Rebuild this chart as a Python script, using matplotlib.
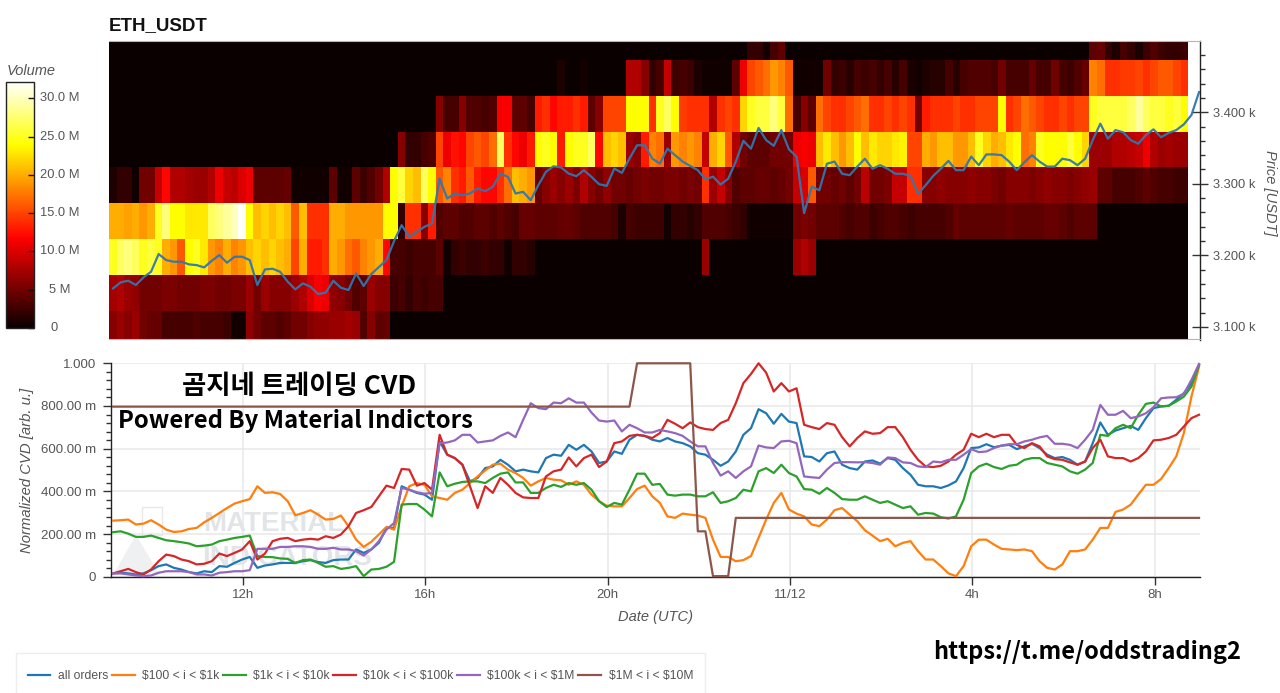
import numpy as np
import matplotlib
matplotlib.use("Agg")
import matplotlib.pyplot as plt
from matplotlib.patches import Polygon, Rectangle
from matplotlib.ticker import MultipleLocator

plt.rcParams['font.family'] = ['Liberation Sans', 'DejaVu Sans']

FIG_W, FIG_H = 1280, 693

# hours since midnight of 11/11, 11/12 00:00 is 24
HEAT_START = 9.066
LINE_START = 9.155
LINE_END = 32.97

# volume per 10 min bin in millions, one list per price bin
vol_3500 = [0] * 84 + [2, 2, 0.3, 3, 4] + [0] * 40 + [4, 4.5, 2, 1, 3, 2, 0.8, 2.5, 3.5, 2.5, 2, 2, 2.5]
vol_3450 = [0] * 59 + [1, 0, 0, 0.6] + [0] * 5 + [8, 8, 6, 2, 3, 9, 2.5, 3, 2.5, 1, 0.3, 0.3, 0.3, 0.3, 4, 11, 15, 16, 17, 19, 18, 16,
            0.3, 0.3, 0.5, 0.5, 5, 2, 2.5, 1.5, 3, 2.5, 3, 2, 3, 1.5, 3, 0.8, 0.5, 1, 1.5, 1.5, 3, 1.5, 3, 3.5, 3.5, 3.5, 3, 5,
            3, 3, 3, 4.5, 3, 3, 5, 3, 2.5, 3.5, 4.5,
            18, 17, 14, 14, 14.5, 14.5, 15, 14, 15, 16, 16, 15, 14]
vol_3400 = [0] * 43 + [6, 3, 3, 6, 3.5, 3.5, 3, 3.5, 11.5, 11.5, 4, 4, 3, 13, 14, 12, 13, 13, 14, 13, 4, 6, 15, 15, 15, 24, 24, 24, 14, 25,
            27, 24, 14.5, 14, 14, 14, 8, 14, 15, 14, 22, 25, 26, 26, 28, 26, 17, 3, 6, 4, 17, 15, 14, 14, 15, 16, 17, 14, 14, 15, 14, 15, 14, 5,
            13, 14, 14, 14, 15, 14, 14, 15, 15, 15, 24, 14, 15, 17, 16, 15, 14, 14, 15, 14, 15, 15,
            25, 26, 26, 26, 26, 27, 29, 27, 26, 26, 25, 26, 24]
vol_3350 = [0] * 38 + [6, 2, 2, 3, 3.5, 15, 11, 12.5, 12, 15, 16, 15, 17, 27, 14, 12, 11, 13, 24, 25, 24, 13, 24, 25, 25, 27, 12, 21, 22, 21, 7, 6, 13,
            18, 17, 7, 19, 18, 19, 18, 9, 20, 22, 16, 8, 5, 4, 4, 4, 5, 5, 5, 11, 11.5, 11, 21, 23, 21, 19, 21, 24, 21, 23, 22, 22, 23, 23.5, 15, 15,
            20, 19, 21, 21, 19, 19, 21, 25, 22, 20, 21, 23, 24, 17, 18, 25, 24, 24, 24, 26, 24, 22,
            7, 7, 7, 8, 8, 8.5, 9, 11, 8, 7, 7.5, 7, 7]
vol_3300 = [1, 2, 2, 0.3, 5, 5, 9, 12, 8, 8, 7.5, 7, 7, 8, 11, 9, 8.5, 10, 11, 4, 4, 4, 4, 4.5, 0.3, 0.3, 0.3, 0.3, 0.3, 4, 0.3, 0.5, 4, 2.5, 3.5, 5, 8,
            24, 26, 22, 21, 27, 24, 16, 18, 14, 13, 16, 13, 12, 12, 14, 17, 21, 20, 19, 4.5, 6, 7, 6, 7, 5.5, 8, 6, 5, 6.5, 5, 5, 4.5, 5,
            5.5, 5, 5, 5.5, 5.5, 5, 5.5, 5, 14, 7, 9, 6, 3.5, 4, 4, 4.5, 4.5, 4, 4.5, 5, 9, 10, 16,
            5, 5, 4.5, 5, 4, 5, 8.5, 5, 5, 5.5, 9, 9, 14, 14,
            6, 6, 6.5, 6, 6, 6, 6.5, 6, 6, 5.5, 5, 6, 6, 6, 5.5, 6, 6.5, 6, 6, 5.5, 6, 6.5, 7,
            4, 4, 3, 3, 3, 3.5, 4, 3.5, 3, 3, 2.5, 2.5]
vol_3250 = [20, 20, 19.5, 20, 19, 20, 25, 28, 24, 24, 23, 23, 23, 27, 28, 29, 30, 32, 24, 21, 22, 21, 22, 21, 16, 21, 14, 14, 14,
            20, 20, 19, 19, 19, 19, 19, 24, 24, 2, 14, 14, 6, 13,
            3.5, 4, 4, 3.5, 3.5, 4, 4, 3.5, 4, 3.5, 3, 4.5, 4.5, 4, 4, 4, 4.5, 4.5, 4, 3.5, 3.5, 3.5, 3.5, 3, 1, 3,
            2.5, 2.5, 2.5, 2.5, 0.5, 2, 2, 1.5, 2, 3.5, 3.5, 3.5, 3, 2.5, 2, 0.3, 0.3, 0.3, 0.3, 0.3, 0.3, 5, 5.5, 5,
            4, 4, 4, 3.5, 3, 3.5, 3.5, 2.5, 3, 3.5, 3.5, 3, 2.5, 3, 3, 3, 3, 3.5, 4.5, 4,
            4, 4, 4, 4, 4, 4.5, 4, 4, 4, 4, 4.5, 4.5, 4, 3.5, 4, 4, 4] + [0] * 12
vol_3200 = [25, 27, 28, 27, 25, 26, 25, 20, 19, 16, 24, 25, 23, 19, 18, 20, 18, 19, 21, 22, 21, 22, 21, 20, 15, 20, 13, 13, 14,
            20, 19, 17, 16, 18, 19, 20, 12, 3, 3, 2.5, 3, 3, 3, 4, 0.5, 2, 2.5, 2, 2, 2.5, 2, 2, 0.5, 2, 2, 1.5] + \
           [0] * 22 + [7] + [0] * 11 + [7, 8, 7] + [0] * 49
vol_3150 = [7.5, 8, 7, 6.5, 5, 5, 5, 5.5, 5.5, 5, 5, 5, 5.5, 5.5, 5, 5, 5.5, 5.5, 7, 5, 7, 6, 6, 6, 7, 8, 10, 11.5, 11,
            6.5, 6, 5, 3.5, 4, 7, 6, 6, 2.5, 3, 2, 3, 2.5, 3, 3] + [0] * 98
vol_3100 = [6, 7, 6, 7, 5, 4.5, 4.5, 3, 3, 3, 3, 3.5, 3, 3, 3, 2.5, 0.5, 0.5, 6.5, 5, 4, 4, 3.5, 4, 5, 5, 6, 6.5, 6.5, 7, 7, 7.5, 7, 3.5, 6, 4, 4.5] + [0] * 105

price_values = [3153.9, 3162.3, 3164.6, 3158.6, 3169.2, 3177.1, 3201.8, 3193.4, 3191.1, 3191.1, 3187.4, 3186.4, 3183.2, 3192.5, 3200.4,
                3189.7, 3198.1, 3198.1, 3193.4, 3158.6, 3180.4, 3181.3, 3177.1, 3163.2, 3152.5, 3160.9, 3156.2, 3146, 3147.9, 3164.6,
                3154.8, 3151.6, 3174.8, 3157.2, 3173.9, 3183.7, 3193.4, 3219.9, 3242.2, 3226, 3232.9, 3239.9, 3244.6, 3307.3, 3279.4,
                3286.4, 3284.1, 3286.4, 3293.4, 3289.7, 3295.7, 3314.3, 3309.6, 3286.4, 3288.7, 3277.1, 3298, 3316.6, 3324.5, 3322.7,
                3314.3, 3310.6, 3319, 3309.6, 3299.4, 3297.1, 3321.3, 3315.2, 3335.2, 3353.8, 3353.8, 3335.2, 3328.2,
                3349, 3340, 3331, 3325, 3319, 3306, 3310, 3299, 3307, 3331, 3360, 3349, 3378, 3361, 3353, 3375, 3348, 3338, 3259, 3296,
                3291, 3328, 3331, 3314, 3312, 3324, 3335, 3321, 3326, 3321, 3314, 3314, 3311, 3286, 3298, 3311, 3321, 3332, 3319, 3319,
                3338, 3326, 3341, 3341, 3340, 3331, 3319, 3330, 3340, 3331, 3324, 3324, 3335, 3333, 3326, 3335, 3361, 3384, 3363, 3375,
                3372, 3361, 3356, 3368, 3376, 3365, 3371, 3375, 3383, 3396, 3428]

# normalized CVD, in thousandths
cvd_all = [16, 19, 16, 11, 16, 31, 50, 58, 42, 34, 22, 16, 26, 22, 50, 47, 65, 81, 93, 42, 53, 58, 65, 65, 65, 73, 78, 69, 65, 78, 81, 81,
           128, 112, 128, 159, 229, 229, 424, 408, 393, 385, 361, 634, 572, 556, 525, 447, 463, 509, 517, 548, 525, 494, 502, 494, 489,
           556, 572, 567, 618, 595, 618, 587, 533, 540, 587, 576, 642, 665, 660, 642, 634,
           650, 634, 626, 611, 579, 572, 548, 520, 540, 587, 665, 696, 785, 766, 717, 763, 727, 720, 564, 561, 540, 579, 587, 525, 509,
           502, 540, 545, 530, 556, 548, 509, 478, 431, 424, 424, 416, 428, 447, 509, 603, 606, 621, 607, 614, 618, 598, 611, 623, 603,
           572, 556, 561, 548, 525, 540, 626, 723, 665, 685, 696, 707, 688, 743, 790, 798, 801, 829, 860, 907, 992]
cvd_100_1k = [263, 265, 268, 245, 249, 265, 245, 221, 210, 213, 224, 229, 255, 276, 299, 322, 343, 354, 364, 424, 393, 396, 388, 354, 288,
              299, 312, 291, 268, 271, 287, 237, 174, 140, 164, 198, 234, 221, 330, 424, 439, 431, 377, 369, 361, 393, 408, 439, 470, 498,
              525, 530, 502, 486, 463, 427, 447, 463, 455, 452, 431, 447, 431, 385, 354, 333, 330, 330, 369, 411, 427, 377, 346,
              283, 276, 296, 291, 287, 276, 174, 93, 93, 73, 78, 97, 182, 268, 346, 393, 315, 296, 283, 245, 237, 268, 312, 322, 291, 260,
              218, 193, 167, 178, 143, 159, 167, 120, 81, 81, 50, 16, 3, 50, 143, 174, 174, 151, 131, 128, 125, 128, 120, 73, 42, 34, 58,
              120, 120, 128, 174, 229, 229, 304, 315, 338, 385, 431, 431, 458, 509, 564, 673, 844, 984]
cvd_1k_10k = [209, 213, 202, 187, 187, 193, 182, 171, 167, 162, 156, 143, 146, 151, 167, 174, 182, 187, 193, 97, 93, 92, 86, 84, 65, 78, 81,
              65, 47, 50, 37, 42, 50, 3, 34, 37, 47, 70, 338, 341, 341, 315, 283, 489, 424, 436, 444, 447, 447, 439, 463, 483, 489, 442, 442,
              393, 393, 416, 431, 421, 439, 431, 439, 408, 354, 327, 346, 338, 408, 483, 483, 431, 435,
              385, 380, 385, 385, 377, 377, 396, 346, 354, 369, 408, 400, 494, 509, 486, 525, 486, 470, 411, 408, 389, 416, 393, 364, 361,
              361, 377, 361, 346, 354, 338, 322, 330, 291, 299, 296, 279, 273, 283, 361, 486, 517, 530, 514, 505, 520, 525, 548, 556, 556,
              533, 525, 517, 494, 483, 502, 533, 665, 660, 696, 712, 696, 759, 810, 816, 798, 801, 821, 844, 891, 992]
cvd_10k_100k = [16, 26, 37, 22, 11, 34, 73, 104, 97, 81, 73, 58, 61, 73, 109, 97, 112, 128, 167, 81, 109, 167, 178, 182, 167, 174, 178, 174,
                190, 182, 198, 237, 299, 312, 327, 377, 427, 416, 505, 502, 427, 439, 408, 665, 572, 556, 525, 424, 322, 424, 393, 463, 431,
                393, 372, 369, 369, 470, 494, 502, 559, 517, 556, 572, 514, 540, 626, 634, 660, 665, 660, 650, 673,
                735, 717, 696, 723, 701, 692, 688, 720, 735, 813, 907, 950, 1000, 956, 868, 907, 868, 883, 712, 701, 692, 720, 712, 654, 611,
                650, 681, 670, 673, 701, 701, 654, 595, 548, 517, 514, 520, 540, 572, 595, 670, 654, 670, 654, 665, 665, 618, 603, 626, 611,
                564, 551, 548, 536, 525, 540, 603, 642, 564, 556, 556, 540, 556, 587, 639, 642, 650, 665, 704, 743, 759]
cvd_100k_1m = [16, 16, 11, 6, 3, 6, 19, 26, 26, 26, 22, 11, 11, 6, 19, 22, 26, 26, 31, 131, 131, 131, 140, 140, 143, 143, 140, 131, 131, 136,
               128, 128, 120, 100, 128, 167, 221, 252, 416, 408, 396, 389, 393, 626, 629, 639, 665, 665, 629, 634, 639, 660, 676, 654, 735,
               813, 790, 785, 816, 813, 836, 816, 816, 769, 732, 727, 732, 681, 712, 696, 676, 676, 688,
               681, 673, 660, 634, 611, 611, 533, 474, 494, 463, 494, 517, 615, 606, 603, 634, 637, 626, 470, 466, 463, 502, 533, 537, 537,
               536, 537, 533, 525, 559, 556, 536, 533, 517, 514, 540, 536, 548, 548, 572, 598, 584, 587, 603, 615, 621, 621, 634, 642, 653,
               660, 623, 623, 618, 603, 642, 688, 805, 759, 759, 777, 743, 751, 766, 794, 836, 840, 841, 857, 922, 997]
cvd_1m_10m = [797] * 69 + [1000] * 8 + [213] * 2 + [3] * 3 + [276] * 62

legend_labels = ['all orders', r'\$100 < i < \$1k', r'\$1k < i < \$10k', r'\$10k < i < \$100k', r'\$100k < i < \$1M', r'\$1M < i < \$10M']
line_colors = ['#1f77b4', '#ff7f0e', '#2ca02c', '#d62728', '#9467bd', '#8c564b']

price_ticks = [3100, 3200, 3300, 3400]
price_labels = ['3.100 k', '3.200 k', '3.300 k', '3.400 k']
cvd_ticks = [0, 200, 400, 600, 800, 1000]
cvd_labels = ['0', '200.00 m', '400.00 m', '600.00 m', '800.00 m', '1.000']
hour_ticks = [12, 16, 20, 24, 28, 32]
hour_labels = ['12h', '16h', '20h', '11/12', '4h', '8h']
volume_ticks = [0, 5, 10, 15, 20, 25, 30]
volume_labels = ['0', '5 M', '10.0 M', '15.0 M', '20.0 M', '25.0 M', '30.0 M']
BIN_EDGE = 3122.8  # lowest price bin boundary
BIN_SIZE = 50
VOL_MAX = 32.2

TICK_COLOR = '#555555'
WATERMARK = '#e2e5e8'


def px_axes(fig, left, top, right, bottom):
    # axes placed by its pixel box, y counted from the top
    return fig.add_axes([left / FIG_W, 1 - bottom / FIG_H, (right - left) / FIG_W, (bottom - top) / FIG_H])


def px_hour(px):
    return 12 + (px - 242.8) / 45.6


def fig_xy(x, y):
    return x / FIG_W, 1 - y / FIG_H


fig = plt.figure(figsize=(FIG_W / 100, FIG_H / 100), dpi=100)

# --- heatmap panel
ax = px_axes(fig, 109, 41.3, 1199.5, 339.5)
vol = np.array([vol_3100, vol_3150, vol_3200, vol_3250, vol_3300, vol_3350, vol_3400, vol_3450, vol_3500])
x_edges = HEAT_START + np.arange(vol.shape[1] + 1) / 6
y_edges = (BIN_EDGE - BIN_SIZE) + np.arange(vol.shape[0] + 1) * BIN_SIZE
mesh = ax.pcolormesh(x_edges, y_edges, vol, cmap='hot', vmin=0, vmax=VOL_MAX, shading='flat', linewidth=0, antialiased=False)
ax.plot(np.linspace(LINE_START, LINE_END, len(price_values)), price_values, color='#2f77b0', lw=1.6, alpha=0.95, clip_on=False)
ax.set_xlim(px_hour(109), px_hour(1199.5))
ax.set_ylim(3082.5, 3499)
ax.xaxis.set_visible(False)
ax.yaxis.tick_right()
ax.yaxis.set_label_position('right')
ax.set_yticks(price_ticks, price_labels)
ax.yaxis.set_minor_locator(MultipleLocator(20))
ax.tick_params(axis='y', which='major', direction='inout', length=11, width=1, color='#333333', labelcolor=TICK_COLOR, labelsize=9.3, pad=4)
ax.tick_params(axis='y', which='minor', direction='out', length=3.6, width=1, color='#333333')
ax.spines['left'].set_visible(False)
for side in ['top', 'bottom']:
    ax.spines[side].set_color('#b5b5b5')
    ax.spines[side].set_linewidth(0.8)
ax.spines['right'].set_color('#222222')
ax.spines['right'].set_linewidth(1)
fig.text(*fig_xy(1270, 193), 'Price [USDT]', rotation=270, style='italic', fontsize=10.5, color=TICK_COLOR, ha='center', va='center')
fig.text(*fig_xy(109, 25.5), 'ETH_USDT', fontsize=13.5, fontweight='bold', color='#111111', ha='left', va='center')

# --- colour bar
cax = px_axes(fig, 5.5, 81.5, 34, 328)
cbar = fig.colorbar(mesh, cax=cax)
cbar.set_ticks(volume_ticks)
cbar.set_ticklabels([''] * len(volume_ticks))
cax.tick_params(axis='y', direction='in', length=4, width=1, color='#111111', right=True)
cbar.outline.set_edgecolor('#222222')
cbar.outline.set_linewidth(1)
for v, label in zip(volume_ticks, volume_labels):
    cx = 54 if label == '0' else 60
    cax.annotate(label, xy=(0, v), xycoords=cax.get_yaxis_transform(), xytext=(cx, 0), textcoords=('figure pixels', 'offset pixels'),
                 ha='center', va='center', fontsize=9.3, color=TICK_COLOR)
fig.text(*fig_xy(7, 71), 'Volume', style='italic', fontsize=10.5, color=TICK_COLOR, ha='left', va='center')

# --- CVD panel
ax2 = px_axes(fig, 111, 363.3, 1200, 576.8)
hours = np.linspace(LINE_START, LINE_END, 144)
all_cvd = [cvd_all, cvd_100_1k, cvd_1k_10k, cvd_10k_100k, cvd_100k_1m, cvd_1m_10m]

# faint logo and watermark behind the lines
ax2.add_patch(Polygon([fig_xy(113, 575), fig_xy(136, 535), fig_xy(160, 575)], transform=fig.transFigure, facecolor='#eef0f1', edgecolor='none', zorder=0.5))
ax2.add_patch(Rectangle(fig_xy(142, 535), 20 / FIG_W, 28 / FIG_H, transform=fig.transFigure, facecolor='none', edgecolor='#e8e8e8', lw=1, zorder=0.5))
ax2.text(*fig_xy(203, 524), 'MATERIAL', transform=fig.transFigure, fontsize=20, fontweight='bold', color=WATERMARK, va='center', zorder=0.6)
ax2.text(*fig_xy(202, 558), 'INDICATORS', transform=fig.transFigure, fontsize=20, fontweight='bold', color=WATERMARK, va='center', zorder=0.6)

handles = []
for series, color, label in zip(all_cvd, line_colors, legend_labels):
    line, = ax2.plot(hours, np.array(series) / 1000, color=color, lw=1.6, label=label, clip_on=False, solid_joinstyle='round', zorder=3)
    handles.append(line)
ax2.set_xlim(px_hour(111), px_hour(1200))
ax2.set_ylim(0, 1)
ax2.set_yticks(np.array(cvd_ticks) / 1000, cvd_labels)
ax2.yaxis.set_minor_locator(MultipleLocator(0.04))
ax2.set_xticks(hour_ticks, hour_labels)
ax2.tick_params(axis='y', which='major', direction='out', length=6, width=1, color='#333333', labelcolor=TICK_COLOR, labelsize=9.5, pad=5)
ax2.tick_params(axis='y', which='minor', direction='out', length=3.6, width=1, color='#333333')
ax2.tick_params(axis='x', which='major', direction='out', length=6, width=1, color='#333333', labelcolor=TICK_COLOR, labelsize=9.5, pad=3)
ax2.grid(True, which='major', color='#e8e8e8', lw=1.1)
ax2.set_axisbelow(True)
for side in ['top', 'right']:
    ax2.spines[side].set_visible(False)
for side in ['left', 'bottom']:
    ax2.spines[side].set_color('#222222')
    ax2.spines[side].set_linewidth(1)
fig.text(*fig_xy(655, 617), 'Date (UTC)', style='italic', fontsize=10.5, color=TICK_COLOR, ha='center', va='center')
fig.text(*fig_xy(27, 470), 'Normalized CVD [arb. u.]', rotation=90, style='italic', fontsize=10.7, color=TICK_COLOR, ha='center', va='center')

# text pasted over the chart
kr = ['Noto Sans CJK KR', 'DejaVu Sans']
fig.text(*fig_xy(299, 387), '곰지네 트레이딩 CVD', family=kr, fontsize=19, fontweight='bold', color='black', ha='center', va='center', zorder=5)
fig.text(*fig_xy(118, 421), 'Powered By Material Indictors', family=kr, fontsize=17.2, fontweight='bold', color='black', ha='left', va='center', zorder=5)
fig.text(*fig_xy(1087, 652), 'https://t.me/oddstrading2', family=kr, fontsize=17, fontweight='bold', color='black', ha='center', va='center', zorder=5)

# legend along the bottom, box drawn apart since it runs off the image
fig.add_artist(Rectangle(fig_xy(16, 700), 689 / FIG_W, 47 / FIG_H, transform=fig.transFigure, facecolor='white', edgecolor='#eeeeee', lw=1))
leg = fig.legend(handles=handles, labels=legend_labels, loc='lower left', bbox_to_anchor=(27.5 / FIG_W, 11 / FIG_H), ncol=6, frameon=False,
                 fontsize=8.7, handlelength=1.9, handletextpad=0.6, columnspacing=0.3, borderaxespad=0, borderpad=0, labelcolor=TICK_COLOR)

fig.savefig('out.png', dpi=100)
